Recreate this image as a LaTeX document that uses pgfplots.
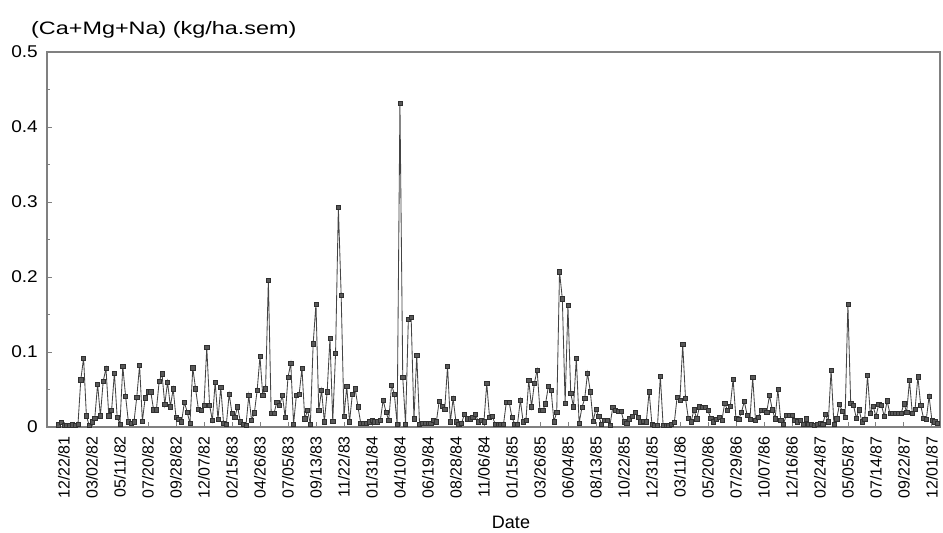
\documentclass[border=0pt]{standalone}
\usepackage{pgfplots}
\usepackage{pgfplotstable}
\pgfplotsset{compat=1.18}
\usepackage{fontspec}
\setmainfont{Liberation Sans}
\newfontfamily\widefont[FakeStretch=1.12]{Liberation Sans}
\newfontfamily\titlefont[FakeStretch=1.3]{Liberation Sans}
\definecolor{ln}{HTML}{444444}
\definecolor{mk}{HTML}{585858}
\definecolor{fr}{HTML}{808080}
\pgfplotstableread{
w v
-2 0.003
-1 0.006
0 0.002
1 0.002
2 0.002
3 0.003
4 0.002
5 0.004
6 0.063
7 0.092
8 0.015
9 0.002
10 0.007
11 0.012
12 0.057
13 0.015
14 0.061
15 0.078
16 0.015
17 0.022
18 0.072
19 0.013
20 0.004
21 0.081
22 0.041
23 0.007
24 0.005
25 0.007
26 0.040
27 0.082
28 0.008
29 0.039
30 0.047
31 0.047
32 0.023
33 0.023
34 0.061
35 0.071
36 0.030
37 0.060
38 0.027
39 0.051
40 0.013
41 0.010
42 0.007
43 0.033
44 0.020
45 0.005
46 0.079
47 0.051
48 0.024
49 0.022
50 0.029
51 0.106
52 0.029
53 0.009
54 0.060
55 0.010
56 0.053
57 0.005
58 0.004
59 0.044
60 0.018
61 0.013
62 0.027
63 0.007
64 0.004
65 0.002
66 0.042
67 0.009
68 0.019
69 0.049
70 0.094
71 0.042
72 0.051
73 0.196
74 0.018
75 0.018
76 0.033
77 0.029
78 0.042
79 0.013
80 0.066
81 0.085
82 0.004
83 0.042
84 0.044
85 0.078
86 0.011
87 0.022
88 0.004
89 0.111
90 0.164
91 0.022
92 0.049
93 0.007
94 0.047
95 0.118
96 0.008
97 0.098
98 0.293
99 0.176
100 0.014
101 0.054
102 0.007
103 0.044
104 0.051
105 0.027
106 0.005
107 0.005
108 0.005
109 0.007
110 0.009
111 0.007
112 0.007
113 0.009
114 0.036
115 0.020
116 0.009
117 0.056
118 0.044
119 0.004
120 0.432
121 0.066
122 0.004
123 0.144
124 0.146
125 0.011
126 0.096
127 0.004
128 0.005
129 0.005
130 0.005
131 0.005
132 0.009
133 0.007
134 0.034
135 0.028
136 0.024
137 0.081
138 0.007
139 0.038
140 0.007
141 0.004
142 0.005
143 0.017
144 0.011
145 0.011
146 0.013
147 0.017
148 0.007
149 0.009
150 0.007
151 0.058
152 0.013
153 0.014
154 0.004
155 0.004
156 0.004
157 0.004
158 0.033
159 0.033
160 0.013
161 0.004
162 0.004
163 0.036
164 0.007
165 0.009
166 0.062
167 0.027
168 0.058
169 0.076
170 0.022
171 0.022
172 0.031
173 0.054
174 0.049
175 0.007
176 0.020
177 0.207
178 0.171
179 0.032
180 0.162
181 0.045
182 0.027
183 0.092
184 0.005
185 0.026
186 0.038
187 0.072
188 0.047
189 0.008
190 0.024
191 0.014
192 0.004
193 0.009
194 0.009
195 0.002
196 0.026
197 0.022
198 0.021
199 0.021
200 0.007
201 0.005
202 0.011
203 0.014
204 0.020
205 0.013
206 0.007
207 0.008
208 0.007
209 0.047
210 0.004
211 0.002
212 0.002
213 0.068
214 0.002
215 0.002
216 0.002
217 0.004
218 0.006
219 0.040
220 0.036
221 0.110
222 0.038
223 0.012
224 0.007
225 0.023
226 0.011
227 0.027
228 0.026
229 0.026
230 0.022
231 0.012
232 0.007
233 0.010
234 0.013
235 0.009
236 0.032
237 0.022
238 0.028
239 0.064
240 0.012
241 0.010
242 0.020
243 0.034
244 0.016
245 0.010
246 0.066
247 0.009
248 0.013
249 0.022
250 0.022
251 0.020
252 0.042
253 0.023
254 0.011
255 0.050
256 0.009
257 0.004
258 0.016
259 0.016
260 0.016
261 0.009
262 0.007
263 0.009
264 0.004
265 0.011
266 0.004
267 0.004
268 0.002
269 0.004
270 0.005
271 0.004
272 0.017
273 0.007
274 0.076
275 0.004
276 0.011
277 0.030
278 0.021
279 0.013
280 0.164
281 0.032
282 0.029
283 0.012
284 0.023
285 0.007
286 0.010
287 0.069
288 0.018
289 0.028
290 0.014
291 0.030
292 0.029
293 0.014
294 0.035
295 0.018
296 0.018
297 0.018
298 0.018
299 0.018
300 0.031
301 0.020
302 0.062
303 0.018
304 0.024
305 0.067
306 0.029
307 0.012
308 0.010
309 0.041
310 0.009
311 0.007
312 0.005
}\data
\begin{document}
\begin{tikzpicture}
\useasboundingbox (0,0) rectangle (943pt,533pt);
\begin{axis}[
  at={(47pt,106pt)}, anchor=south west,
  scale only axis, width=893pt, height=375pt,
  xmin=-6.07, xmax=312.9, ymin=0, ymax=0.5,
  clip=false,
  axis line style={fr, line width=1.6pt},
  ytick={0,0.1,0.2,0.3,0.4,0.5},
  yticklabels={0,0.1,0.2,0.3,0.4,0.5},
  minor ytick={0.05,0.15,0.25,0.35,0.45},
  xtick={0,10,...,310},
  xticklabels={12/22/81,03/02/82,05/11/82,07/20/82,09/28/82,12/07/82,02/15/83,04/26/83,07/05/83,09/13/83,11/22/83,01/31/84,04/10/84,06/19/84,08/28/84,11/06/84,01/15/85,03/26/85,06/04/85,08/13/85,10/22/85,12/31/85,03/11/86,05/20/86,07/29/86,10/07/86,12/16/86,02/24/87,05/05/87,07/14/87,09/22/87,12/01/87},
  tick align=inside,
  ytick pos=left, xtick pos=bottom,
  major tick length=5pt, minor tick length=3pt,
  tick style={fr, line width=0.8pt},
  yticklabel style={font=\widefont\fontsize{17}{17}\selectfont, anchor=east, inner sep=0pt},
  yticklabel shift=9pt,
  xticklabel style={font=\fontsize{16}{16}\selectfont, rotate=90, anchor=east, inner sep=0pt},
  xticklabel shift=9pt,
]
\addplot[color=ln, line width=0.85pt, mark=square*, mark size=2.1pt,
  mark options={fill=mk, draw=ln!70!black, line width=0.5pt}]
  table[x=w, y=v] {\data};
\end{axis}
\node[anchor=west, inner sep=0pt] at (31pt,503pt) {\titlefont\fontsize{18}{18}\selectfont (Ca+Mg+Na) (kg/ha.sem)};
\node[inner sep=0pt] at (511pt,11pt) {\fontsize{18}{18}\selectfont Date};
\end{tikzpicture}
\end{document}
